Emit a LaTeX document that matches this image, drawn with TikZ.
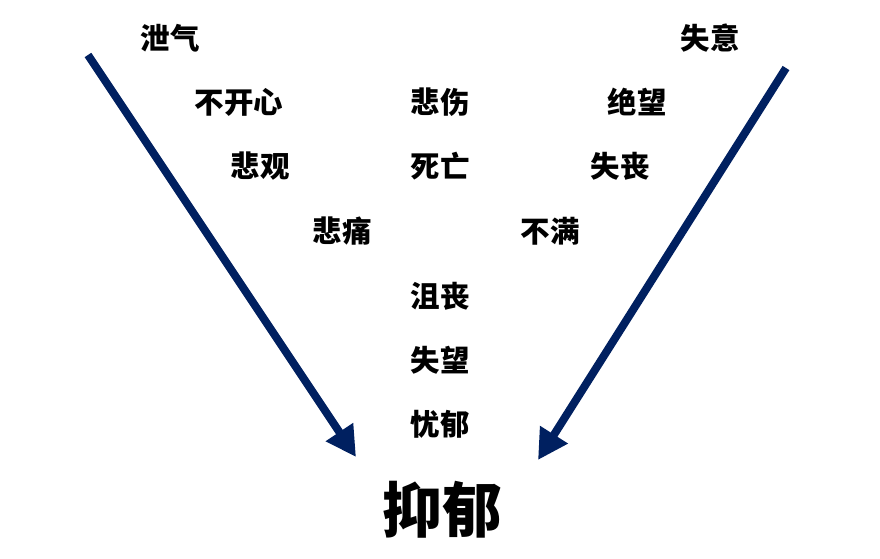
\documentclass[tikz,border=0pt]{standalone}
\usepackage{fontspec}
\newfontfamily\cjk{Noto Sans CJK SC}
\usetikzlibrary{arrows.meta}
\definecolor{navy}{RGB}{0,32,96}
\tikzset{
  word/.style={
    font=\cjk\bfseries\fontsize{29.5}{29.5}\selectfont,
    inner sep=0pt
  },
  bigword/.style={
    font=\cjk\bfseries\fontsize{60}{60}\selectfont,
    inner sep=0pt
  },
  funnel/.style={
    draw=navy, line width=8pt,
    -{Triangle[width=31pt,length=30pt]}
  }
}

\begin{document}
\begin{tikzpicture}[x=1pt, y=1pt]
    \useasboundingbox (0,0) rectangle (880,558);

    %% Left side
    \node[word] (xieqi) at (170,520) {泄气};
    \node[word] (bukaixin) at (239,456) {不开心};
    \node[word] (beiguan) at (260,392) {悲观};
    \node[word] (beitong) at (342,327) {悲痛};

    %% Middle column
    \node[word] (beishang) at (440,456) {悲伤};
    \node[word] (siwang) at (440,392) {死亡};
    \node[word] (jusang) at (440,262) {沮丧};
    \node[word] (shiwang) at (440,198) {失望};
    \node[word] (youyu) at (440,134) {忧郁};

    %% Right side
    \node[word] (shiyi) at (710,520) {失意};
    \node[word] (juewang) at (637,456) {绝望};
    \node[word] (shisang) at (620,392) {失丧};
    \node[word] (buman) at (550,327) {不满};

    %% Result
    \node[bigword] (yiyu) at (442,48) {抑郁};

    %% Arrows
    \coordinate (lstart) at (88,503);
    \coordinate (lend) at (356,101);
    \coordinate (rstart) at (786,490);
    \coordinate (rend) at (538,98);
    \draw[funnel] (lstart) -- (lend);
    \draw[funnel] (rstart) -- (rend);
\end{tikzpicture}
\end{document}
